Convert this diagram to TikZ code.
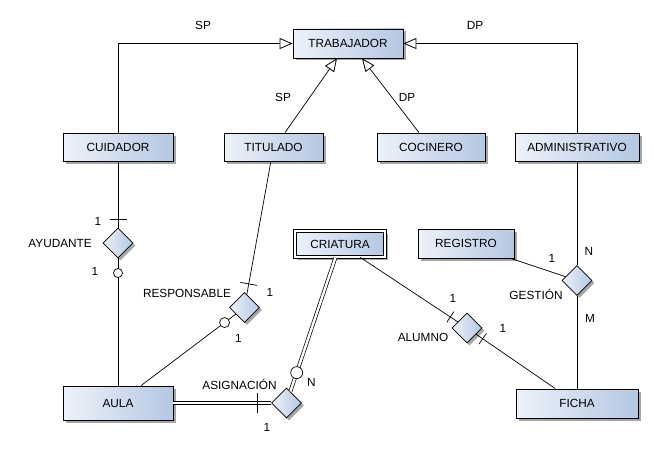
\documentclass[tikz,border=0pt]{standalone}
\usepackage{fontspec}
\setmainfont{Liberation Sans}
\usetikzlibrary{arrows.meta,calc,shadows,shapes.geometric}
\definecolor{boxL}{RGB}{237,242,249}
\definecolor{boxR}{RGB}{180,199,227}
\begin{document}
\begin{tikzpicture}[x=1pt,y=-1pt,
  font=\fontsize{11.8}{14}\selectfont,
  shd/.style={drop shadow={shadow xshift=2.5pt, shadow yshift=-2.5pt, opacity=0.35, fill=black}},
  ent/.style={rectangle, draw, line width=0.8pt, left color=boxL, right color=boxR, inner sep=0pt, shd},
  rel/.style={diamond, draw, line width=0.8pt, left color=boxL, right color=boxR, inner sep=0pt, minimum width=30pt, minimum height=30pt, shd},
  ln/.style={line width=0.7pt},
  dbl/.style={double, double distance=2.4pt, line width=0.7pt},
  isa/.style={ln, -{Triangle[open, length=13pt, width=11pt, line width=0.8pt]}},
  lbl/.style={inner sep=0pt},
  opt/.style={circle, draw, fill=white, line width=0.7pt, inner sep=0pt, minimum size=9pt},
]
\useasboundingbox[fill=white] (0,0) rectangle (654,452);

% entities
\node[ent, minimum width=110pt, minimum height=29pt] (trabajador) at (348,43.5) {TRABAJADOR};
\node[ent, minimum width=110pt, minimum height=28pt] (cuidador) at (118,147) {CUIDADOR};
\node[ent, minimum width=99pt, minimum height=28pt] (titulado) at (273.5,147) {TITULADO};
\node[ent, minimum width=108pt, minimum height=28pt] (cocinero) at (431,147) {COCINERO};
\node[ent, minimum width=124pt, minimum height=28pt] (administrativo) at (577,147) {ADMINISTRATIVO};
\node[ent, minimum width=110pt, minimum height=34pt] (aula) at (118,403) {AULA};
\node[ent, minimum width=122pt, minimum height=29pt] (ficha) at (577,403.5) {FICHA};
\node[ent, minimum width=96pt, minimum height=29pt] (registro) at (466,243.5) {REGISTRO};
\node[ent, double, double distance=2pt, minimum width=90pt, minimum height=26pt] (criatura) at (340,244) {CRIATURA};

% relationships
\node[rel] (ayudante) at (118,243) {};
\node[rel] (resp) at (244.5,307.5) {};
\node[rel] (asig) at (286.5,403) {};
\node[rel] (alumno) at (467,328) {};
\node[rel] (gestion) at (577,280.5) {};

% generalisation
\draw[isa] (cuidador.north) |- (trabajador.west);
\draw[isa] (administrativo.north) |- (trabajador.east);
\draw[isa] ([xshift=11.5pt]titulado.north) -- ([xshift=-11pt]trabajador.south);
\draw[isa] ([xshift=-12pt]cocinero.north) -- ([xshift=14pt]trabajador.south);

% relationship lines
\draw[ln] (cuidador) -- (ayudante);
\draw[ln] (ayudante) -- (aula);
\draw[ln] (titulado) -- (resp);
\draw[ln] (resp) -- (aula);
\draw[dbl] (aula) -- (asig);
\draw[dbl] (criatura) -- (asig);
\draw[ln] (criatura) -- (alumno);
\draw[ln] (alumno) -- (ficha);
\draw[ln] (registro) -- (gestion);
\draw[ln] (administrativo) -- (gestion);
\draw[ln] (gestion) -- (ficha);

% ticks
\coordinate (tA) at ($(ayudante.center)!24pt!(cuidador.center)$);
\draw[ln] ($(tA)!8.5pt!90:(cuidador.center)$) -- ($(tA)!8.5pt!-90:(cuidador.center)$);
\coordinate (tR) at ($(resp.center)!24pt!(titulado.center)$);
\draw[ln] ($(tR)!8.5pt!90:(titulado.center)$) -- ($(tR)!8.5pt!-90:(titulado.center)$);
\coordinate (tL1) at ($(alumno.center)!20pt!(criatura.center)$);
\draw[ln] ($(tL1)!6.5pt!90:(criatura.center)$) -- ($(tL1)!6.5pt!-90:(criatura.center)$);
\coordinate (tL2) at ($(alumno.center)!19pt!(ficha.center)$);
\draw[ln] ($(tL2)!6.5pt!90:(ficha.center)$) -- ($(tL2)!6.5pt!-90:(ficha.center)$);
\coordinate (tS) at ($(asig.center)!29pt!(aula.center)$);
\draw[ln] ($(tS)!10pt!90:(aula.center)$) -- ($(tS)!10pt!-90:(aula.center)$);

% optional circles
\node[opt] (cA) at ($(ayudante.center)!30pt!(aula.center)$) {};
\node[opt, minimum size=10pt] (cR) at ($(resp.center)!25pt!(aula.center)$) {};
\node[opt, minimum size=12pt] (cC) at ($(asig.center)!32pt!(criatura.center)$) {};

% labels
\node[lbl] (l1) at (203,25) {SP};
\node[lbl] (l2) at (475,25) {DP};
\node[lbl] (l3) at (283,97) {SP};
\node[lbl] (l4) at (407,97) {DP};
\node[lbl] (l5) at (98,221) {1};
\node[lbl] (l6) at (95,271) {1};
\node[lbl, anchor=east] (l7) at (92,243) {AYUDANTE};
\node[lbl] (l8) at (187,293) {RESPONSABLE};
\node[lbl] (l9) at (270,292) {1};
\node[lbl] (l10) at (238.5,338) {1};
\node[lbl] (l11) at (239.5,384) {ASIGNACIÓN};
\node[lbl] (l12) at (311.5,382) {N};
\node[lbl] (l13) at (267,427) {1};
\node[lbl] (l14) at (552,258) {1};
\node[lbl] (l15) at (589,251) {N};
\node[lbl] (l16) at (590,318) {M};
\node[lbl] (l17) at (536,294) {GESTIÓN};
\node[lbl] (l18) at (423,337) {ALUMNO};
\node[lbl] (l19) at (453,298) {1};
\node[lbl] (l20) at (503,328) {1};
\end{tikzpicture}
\end{document}
